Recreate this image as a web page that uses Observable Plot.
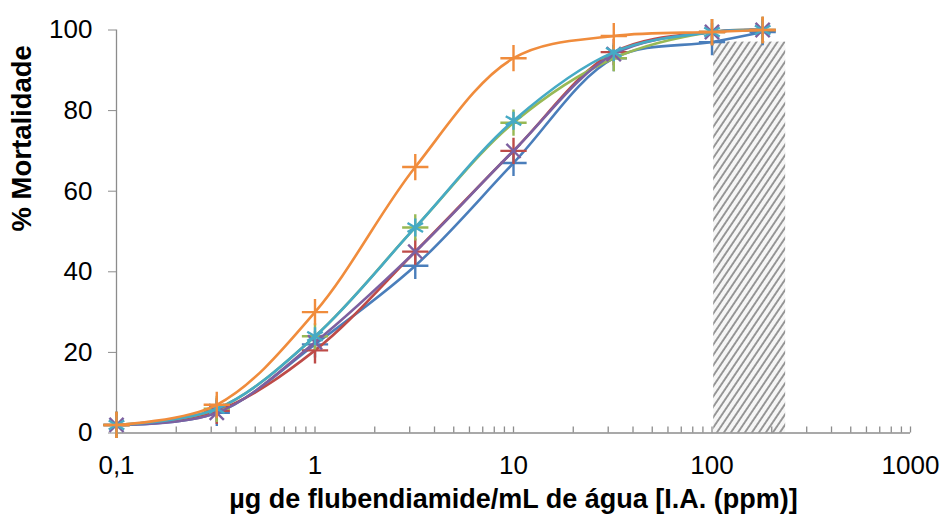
<!DOCTYPE html>
<html>
<head>
<meta charset="utf-8">
<script src="https://cdn.jsdelivr.net/npm/d3@7"></script>
<script src="https://cdn.jsdelivr.net/npm/@observablehq/plot@0.6"></script>
<style>
  html, body { margin: 0; padding: 0; background: #fff; }
  svg { display: block; }
</style>
</head>
<body>
<div id="chart"></div>
<script>
// Doses (µg/mL, log axis)
const doses = [0.1, 0.32, 1, 3.2, 10, 32, 100, 180];

// Mortality (%) per series
const blueVals   = [2, 5,   22,   41.5, 67,   93,   97,   99.5];
const redVals    = [2, 5.5, 20.5, 45,   70,   94.5, 99.5, 100];
const greenVals  = [2, 6,   24,   51,   77,   93,   99.5, 100];
const purpleVals = [2, 5,   22.5, 45,   70,   94,   99.5, 100];
const tealVals   = [2, 6,   24,   51,   77.5, 94.5, 99.5, 100];
const orangeVals = [2, 7,   30,   66,   93,   98.5, 99.5, 100];

const seriesColors  = ["#4A7EBB", "#BE4B48", "#98B954", "#7D60A0", "#46AAC5", "#F08C3C"];
const seriesSymbols = ["plus", "plus", "plus", "times", "asterisk", "plus"];
const seriesValues  = [blueVals, redVals, greenVals, purpleVals, tealVals, orangeVals];

// Hatched region
const hatchRange = [102, 235];
const hatchTop = 97;

// Axis ticks
const xMajor = [0.1, 1, 10, 100, 1000];
const xMinor = [0.2,0.3,0.4,0.5,0.6,0.7,0.8,0.9, 2,3,4,5,6,7,8,9, 20,30,40,50,60,70,80,90, 200,300,400,500,600,700,800,900];
const yTicks = [0, 20, 40, 60, 80, 100];

const xTitle = "µg de flubendiamide/mL de água [I.A. (ppm)]";
const yTitle = "% Mortalidade";

const marks = [];
marks.push(Plot.rect([{x1: hatchRange[0], x2: hatchRange[1], y1: 0, y2: hatchTop}],
  {x1: "x1", x2: "x2", y1: "y1", y2: "y2", fill: "url(#hatch)"}));

// axis lines
marks.push(Plot.ruleY([0], {stroke: "#8c8c8c", strokeWidth: 1.3}));
marks.push(Plot.ruleX([0.1], {stroke: "#8c8c8c", strokeWidth: 1.3}));
// x ticks (pointing up into the plot)
marks.push(Plot.ruleX(xMajor.concat(xMinor), {y1: 0, y2: 1.5, stroke: "#8c8c8c", strokeWidth: 1.3}));

marks.push(Plot.axisY({ticks: yTicks, tickSize: 8, tickPadding: 16, stroke: "#8c8c8c", fontSize: 26, color: "#000", label: null}));
marks.push(Plot.axisX({ticks: xMajor, tickSize: 0, tickPadding: 23, fontSize: 26, color: "#000", label: null,
  tickFormat: d => String(d).replace(".", ",")}));

const symbolR = {plus: 8.5, asterisk: 8.5, times: 6.5};
seriesValues.forEach((vals, i) => {
  const rows = doses.map((d, j) => ({dose: d, mort: vals[j]}));
  marks.push(Plot.line(rows, {x: "dose", y: "mort", stroke: seriesColors[i], strokeWidth: 2.6, curve: "catmull-rom"}));
  marks.push(Plot.dot(rows, {x: "dose", y: "mort", symbol: seriesSymbols[i], r: symbolR[seriesSymbols[i]], stroke: seriesColors[i], strokeWidth: 2.4, fill: "none"}));
});

marks.push(Plot.text([yTitle], {frameAnchor: "left", dx: -94, rotate: -90, fontWeight: "bold", fontSize: 27.5, fill: "#000"}));
marks.push(Plot.text([xTitle], {frameAnchor: "bottom", dy: 75, fontWeight: "bold", fontSize: 27, fill: "#000"}));

const chart = Plot.plot({
  width: 944,
  height: 518,
  marginLeft: 116,
  marginRight: 34,
  marginTop: 29.5,
  marginBottom: 85.5,
  style: {fontFamily: "'Liberation Sans', Arial, sans-serif", fontSize: "26px", background: "#fff", overflow: "visible"},
  x: {type: "log", domain: [0.1, 1000], axis: null},
  y: {domain: [0, 100], axis: null},
  marks
});

d3.select(chart).insert("defs", ":first-child").html(
  '<pattern id="hatch" patternUnits="userSpaceOnUse" width="5.8" height="5.8" patternTransform="rotate(34)">' +
  '<rect width="5.8" height="5.8" fill="#f6f6f6"/>' +
  '<line x1="1" y1="0" x2="1" y2="5.8" stroke="#707070" stroke-width="1.4"/></pattern>'
);

document.getElementById("chart").appendChild(chart);
</script>
</body>
</html>
